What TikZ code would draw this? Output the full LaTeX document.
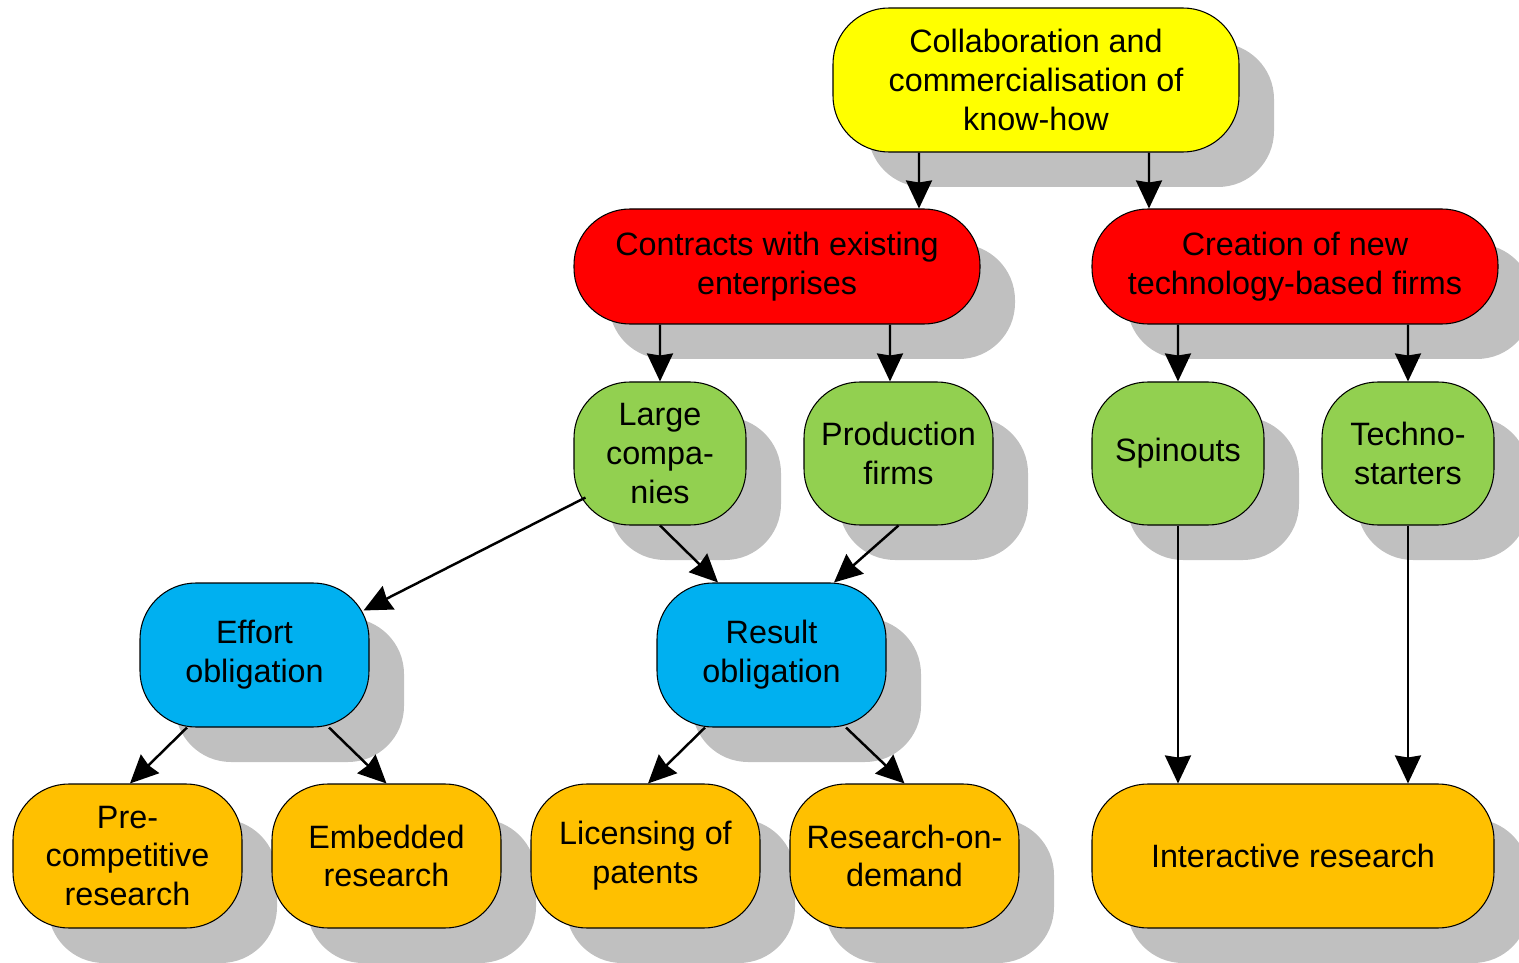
\documentclass[tikz,border=0pt]{standalone}
\usepackage{fontspec}
\setmainfont{Liberation Sans}
\usetikzlibrary{arrows.meta,shadows}
\definecolor{boxyellow}{HTML}{FFFF00}
\definecolor{boxred}{HTML}{FF0000}
\definecolor{boxgreen}{HTML}{92D050}
\definecolor{boxblue}{HTML}{00B0F0}
\definecolor{boxorange}{HTML}{FFC000}
\definecolor{shadowgray}{HTML}{C0C0C0}

\begin{document}
\begin{tikzpicture}
[box/.style={shape=rectangle,draw=black,line width=.6pt,rounded corners=1.12cm,
  align=center,inner sep=0pt,font=\fontsize{18.4}{22.1}\selectfont,
  drop shadow={shadow xshift=.7cm,shadow yshift=-.7cm,fill=shadowgray,opacity=1}},
wide/.style={box,minimum width=8.12cm},
narrow/.style={box,minimum width=3.44cm,minimum height=2.86cm},
mid/.style={box,minimum width=4.58cm,minimum height=2.88cm},
arr/.style={line width=1.4pt,-{Stealth[length=.56cm,width=.52cm,inset=.04cm]}}]
\useasboundingbox (0,0) rectangle (30.38,-19.26);
%%
% top level
%%
\node[wide,minimum height=2.88cm,fill=boxyellow] (collab) at (20.72,-1.6)
{Collaboration and\\commercialisation of\\know-how};
%%
% second level
%%
\node[wide,minimum height=2.3cm,fill=boxred] (contracts) at (15.54,-5.33)
{Contracts with existing\\enterprises};
\node[wide,minimum height=2.3cm,fill=boxred] (creation) at (25.9,-5.33)
{Creation of new\\technology-based firms};
%%
% third level
%%
\node[narrow,fill=boxgreen] (large) at (13.2,-9.07) {Large\\compa-\\nies};
\node[narrow,minimum width=3.78cm,fill=boxgreen] (prod) at (17.97,-9.07)
{Production\\firms};
\node[narrow,fill=boxgreen] (spin) at (23.56,-9.07) {Spinouts};
\node[narrow,fill=boxgreen] (techno) at (28.16,-9.07) {Techno-\\starters};
%%
% obligations
%%
\node[mid,fill=boxblue] (effort) at (5.09,-13.1) {Effort\\obligation};
\node[mid,fill=boxblue] (result) at (15.43,-13.1) {Result\\obligation};
%%
% research forms
%%
\node[mid,fill=boxorange] (precomp) at (2.55,-17.12)
{Pre-\\competitive\\research};
\node[mid,fill=boxorange] (embedded) at (7.73,-17.12) {Embedded\\research};
\node[mid,fill=boxorange] (licensing) at (12.91,-17.12) {Licensing of\\patents};
\node[mid,fill=boxorange] (ondemand) at (18.09,-17.12) {Research-on-\\demand};
\node[mid,minimum width=8.04cm,fill=boxorange] (interactive) at (25.86,-17.12)
{Interactive research};
%%
% connectors
%%
\draw[arr] ([xshift=-2.34cm]collab.south) -- ([xshift=2.84cm]contracts.north);
\draw[arr] ([xshift=2.26cm]collab.south) -- ([xshift=-2.92cm]creation.north);
\draw[arr] ([xshift=-2.34cm]contracts.south) -- (large.north);
\draw[arr] ([xshift=2.26cm]contracts.south) -- ([xshift=-.17cm]prod.north);
\draw[arr] ([xshift=-2.34cm]creation.south) -- (spin.north);
\draw[arr] ([xshift=2.26cm]creation.south) -- (techno.north);
%%
\draw[arr] ([shift={(.24cm,.56cm)}]large.south west)
  -- ([shift={(-.12cm,-.56cm)}]effort.north east);
\draw[arr] (large.south) -- ([xshift=-1.07cm]result.north);
\draw[arr] (prod.south) -- ([xshift=1.25cm]result.north);
%%
\draw[arr] ([xshift=-1.35cm]effort.south) -- ([xshift=.05cm]precomp.north);
\draw[arr] ([xshift=1.49cm]effort.south) -- (embedded.north);
\draw[arr] ([xshift=-1.33cm]result.south) -- ([xshift=.05cm]licensing.north);
\draw[arr] ([xshift=1.49cm]result.south) -- (ondemand.north);
%%
\draw[arr] (spin.south) -- (spin.south |- interactive.north);
\draw[arr] (techno.south) -- (techno.south |- interactive.north);
\end{tikzpicture}
\end{document}
